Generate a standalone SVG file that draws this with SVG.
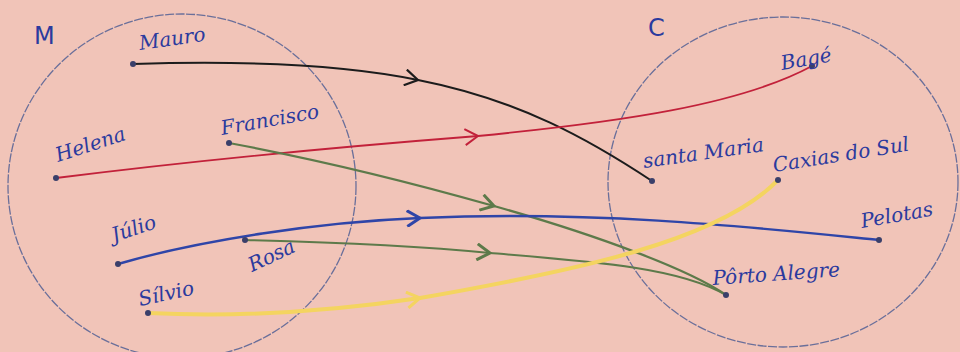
<svg xmlns="http://www.w3.org/2000/svg" width="960" height="352" viewBox="0 0 960 352">
<defs>
<style>
.set{fill:none;stroke:#6a6f9a;stroke-width:1.3;stroke-dasharray:9 1.5}
.lbl{font-family:"DejaVu Serif","Liberation Serif",serif;font-style:italic;fill:#2b3a9e;font-size:20px}
.big{font-family:"DejaVu Sans","Liberation Sans",sans-serif;fill:#2b3a9e;font-size:24px}
.dot{fill:#3a3f6a}
.e{fill:none;stroke-linecap:round}
</style>
<marker id="hk" viewBox="-14 -9 16 18" markerWidth="16" markerHeight="18" refX="0" refY="0" orient="auto" markerUnits="userSpaceOnUse"><path d="M-13,-8 L0,0 L-13,8" fill="none" stroke="#1c1c1c" stroke-width="2.2"/></marker>
<marker id="hr" viewBox="-14 -9 16 18" markerWidth="16" markerHeight="18" refX="0" refY="0" orient="auto" markerUnits="userSpaceOnUse"><path d="M-13,-8 L0,0 L-13,8" fill="none" stroke="#c2213a" stroke-width="2"/></marker>
<marker id="hg" viewBox="-14 -9 16 18" markerWidth="16" markerHeight="18" refX="0" refY="0" orient="auto" markerUnits="userSpaceOnUse"><path d="M-13,-8 L0,0 L-13,8" fill="none" stroke="#5d7a4a" stroke-width="3"/></marker>
<marker id="hb" viewBox="-14 -9 16 18" markerWidth="16" markerHeight="18" refX="0" refY="0" orient="auto" markerUnits="userSpaceOnUse"><path d="M-13,-8 L0,0 L-13,8" fill="none" stroke="#2f45a8" stroke-width="3"/></marker>
<marker id="hy" viewBox="-14 -9 16 18" markerWidth="16" markerHeight="18" refX="0" refY="0" orient="auto" markerUnits="userSpaceOnUse"><path d="M-13,-8 L0,0 L-13,8" fill="none" stroke="#f4d460" stroke-width="3"/></marker>
</defs>
<rect width="960" height="352" fill="#f1c4b8"/>

<g id="setM">
<ellipse class="set" cx="182" cy="186" rx="174" ry="172"/>
<text class="big" x="34" y="44">M</text>
</g>
<g id="setC">
<ellipse class="set" cx="783" cy="182" rx="175" ry="165"/>
<text class="big" x="648" y="36">C</text>
</g>

<g id="connectors">
<path class="e" d="M133,64 C260,60 350,66 418,80 C520,100 590,140 652,181" stroke="#1c1c1c" stroke-width="2" marker-mid="url(#hk)"/>
<path class="e" d="M56,178 C200,160 350,146 478,136 C620,122 740,105 812,66" stroke="#c2213a" stroke-width="1.8" marker-mid="url(#hr)"/>
<path class="e" d="M229,143 C320,160 420,185 494,206 C600,236 690,270 726,295" stroke="#5d7a4a" stroke-width="2.2" marker-mid="url(#hg)"/>
<path class="e" d="M118,264 C200,240 320,222 420,218 C600,210 760,228 879,240" stroke="#2f45a8" stroke-width="2.4" marker-mid="url(#hb)"/>
<path class="e" d="M245,240 C330,242 420,246 490,253 C600,262 680,268 726,295" stroke="#5d7a4a" stroke-width="2" marker-mid="url(#hg)"/>
<path class="e" d="M148,313 C250,318 340,310 420,298 C580,270 720,240 778,180" stroke="#f4d460" stroke-width="4" marker-mid="url(#hy)"/>
</g>

<g id="Mauro"><circle class="dot" cx="133" cy="64" r="3"/><text class="lbl" x="140" y="50" transform="rotate(-8 140 50)">Mauro</text></g>
<g id="Helena"><circle class="dot" cx="56" cy="178" r="3"/><text class="lbl" x="58" y="162" transform="rotate(-18 58 162)">Helena</text></g>
<g id="Francisco"><circle class="dot" cx="229" cy="143" r="3"/><text class="lbl" x="222" y="135" transform="rotate(-10 222 135)">Francisco</text></g>
<g id="Julio"><circle class="dot" cx="118" cy="264" r="3"/><text class="lbl" x="114" y="242" transform="rotate(-18 114 242)">Júlio</text></g>
<g id="Rosa"><circle class="dot" cx="245" cy="240" r="3"/><text class="lbl" x="252" y="272" transform="rotate(-25 252 272)">Rosa</text></g>
<g id="Silvio"><circle class="dot" cx="148" cy="313" r="3"/><text class="lbl" x="140" y="306" transform="rotate(-12 140 306)">Sílvio</text></g>

<g id="Bage"><circle class="dot" cx="812" cy="66" r="3"/><text class="lbl" x="782" y="70" transform="rotate(-10 782 70)">Bagé</text></g>
<g id="SantaMaria"><circle class="dot" cx="652" cy="181" r="3"/><text class="lbl" x="644" y="168" transform="rotate(-8 644 168)">santa Maria</text></g>
<g id="Caxias"><circle class="dot" cx="778" cy="180" r="3"/><text class="lbl" x="774" y="172" transform="rotate(-9 774 172)">Caxias do Sul</text></g>
<g id="Pelotas"><circle class="dot" cx="879" cy="240" r="3"/><text class="lbl" x="862" y="228" transform="rotate(-10 862 228)">Pelotas</text></g>
<g id="PortoAlegre"><circle class="dot" cx="726" cy="295" r="3"/><text class="lbl" x="713" y="285" transform="rotate(-4 713 285)">Pôrto Alegre</text></g>
</svg>
